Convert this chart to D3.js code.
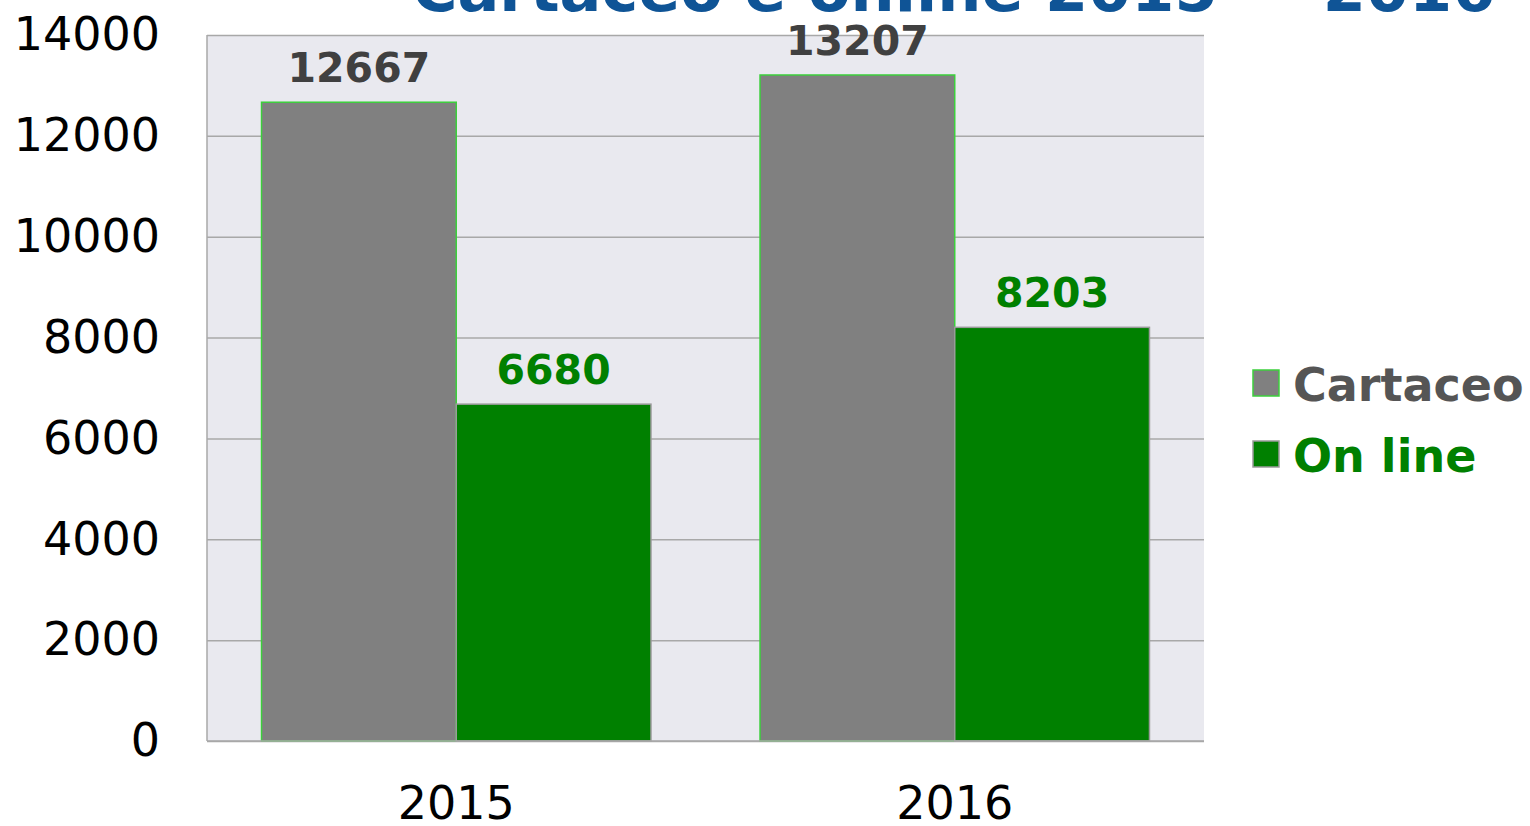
<!DOCTYPE html>
<html>
<head>
<meta charset="utf-8">
<script src="https://cdn.jsdelivr.net/npm/d3@7"></script>
<style>
  body { margin: 0; background: #fff; }
  svg { display: block; }
</style>
</head>
<body>
<svg id="main_svg"></svg>
<script>
const WIDTH = 1530;
const HEIGHT = 826;
const PLOT_LEFT = 207;
const PLOT_RIGHT = 1204;
const PLOT_TOP = 35;
const PLOT_BOTTOM = 741;

const TITLE = 'Cartaceo e online 2015 — 2016';
const years = ['2015', '2016'];
const series = ['Cartaceo', 'On line'];
const cartaceo = [12667, 13207];
const online = [6680, 8203];
const y_ticks = [0, 2000, 4000, 6000, 8000, 10000, 12000, 14000];

const fills = { 'Cartaceo': '#808080', 'On line': '#008000' };
const strokes = { 'Cartaceo': '#3ccf3c', 'On line': '#9a9a9a' };
const label_colors = { 'Cartaceo': '#404040', 'On line': '#008000' };

// Zip the series by year
const dataset = years.map((y, i) => ({ year: y, values: [
	{ key: 'Cartaceo', value: cartaceo[i] },
	{ key: 'On line', value: online[i] }
]}));

const svg = d3.select('#main_svg').attr('width', WIDTH).attr('height', HEIGHT);

const x0 = d3.scaleBand()
	.domain(years)
	.range([PLOT_LEFT, PLOT_RIGHT]);

const x1 = d3.scaleBand()
	.domain(series)
	.range([0, x0.bandwidth()])
	.paddingInner(0)
	.paddingOuter(0.28);

const y = d3.scaleLinear()
	.domain([0, 14000])
	.range([PLOT_BOTTOM, PLOT_TOP]);

// Plot background
svg.append('rect')
	.attr('x', PLOT_LEFT)
	.attr('y', PLOT_TOP)
	.attr('width', PLOT_RIGHT - PLOT_LEFT)
	.attr('height', PLOT_BOTTOM - PLOT_TOP)
	.attr('fill', '#e9e9ef');

// Gridlines
svg.append('g')
	.attr('transform', `translate(${PLOT_LEFT},0)`)
	.call(d3.axisLeft(y).tickValues(y_ticks).tickSize(-(PLOT_RIGHT - PLOT_LEFT)).tickFormat(''))
	.call(g => g.select('.domain').remove())
	.call(g => g.selectAll('line').attr('stroke', '#a8a8a8').attr('stroke-width', 1.5));

// Left border
svg.append('line')
	.attr('x1', PLOT_LEFT).attr('x2', PLOT_LEFT)
	.attr('y1', PLOT_TOP).attr('y2', PLOT_BOTTOM)
	.attr('stroke', '#a8a8a8').attr('stroke-width', 1.5);

// Y axis labels
svg.append('g')
	.attr('transform', `translate(${PLOT_LEFT},0)`)
	.call(d3.axisLeft(y).tickValues(y_ticks).tickSize(0).tickPadding(47).tickFormat(d => d))
	.call(g => g.select('.domain').remove())
	.call(g => g.selectAll('text')
		.attr('font-family', 'DejaVu Sans, Verdana, sans-serif')
		.attr('font-size', '46px')
		.attr('fill', '#000'));

// X axis labels
svg.append('g')
	.attr('transform', `translate(0,${PLOT_BOTTOM})`)
	.call(d3.axisBottom(x0).tickSize(0).tickPadding(45))
	.call(g => g.select('.domain').remove())
	.call(g => g.selectAll('text')
		.attr('font-family', 'DejaVu Sans, Verdana, sans-serif')
		.attr('font-size', '46px')
		.attr('fill', '#000'));

// Bars
const groups = svg.selectAll('.year_group')
	.data(dataset)
	.enter()
	.append('g')
	.attr('class', 'year_group')
	.attr('transform', d => `translate(${x0(d.year)},0)`);

groups.selectAll('rect')
	.data(d => d.values)
	.enter()
	.append('rect')
	.attr('x', d => x1(d.key))
	.attr('y', d => y(d.value))
	.attr('width', x1.bandwidth())
	.attr('height', d => y(0) - y(d.value))
	.attr('fill', d => fills[d.key])
	.attr('stroke', d => strokes[d.key])
	.attr('stroke-width', 1.5);

groups.selectAll('.value_label')
	.data(d => d.values)
	.enter()
	.append('text')
	.attr('class', 'value_label')
	.attr('x', d => x1(d.key) + x1.bandwidth() / 2)
	.attr('y', d => y(d.value) - 20)
	.attr('text-anchor', 'middle')
	.attr('font-family', 'DejaVu Sans, Verdana, sans-serif')
	.attr('font-weight', 'bold')
	.attr('font-size', '41px')
	.attr('fill', d => label_colors[d.key])
	.text(d => d.value);

// Bottom axis line
svg.append('line')
	.attr('x1', PLOT_LEFT).attr('x2', PLOT_RIGHT)
	.attr('y1', PLOT_BOTTOM).attr('y2', PLOT_BOTTOM)
	.attr('stroke', '#a8a8a8').attr('stroke-width', 1.5);

// Legend
const legend = svg.selectAll('.legend_item')
	.data(series)
	.enter()
	.append('g')
	.attr('class', 'legend_item')
	.attr('transform', (d, i) => `translate(1253, ${370 + i * 71})`);

legend.append('rect')
	.attr('width', 26)
	.attr('height', 26)
	.attr('fill', d => fills[d])
	.attr('stroke', d => strokes[d])
	.attr('stroke-width', 1.5);

legend.append('text')
	.attr('x', 40)
	.attr('y', 31)
	.attr('font-family', 'DejaVu Sans, Verdana, sans-serif')
	.attr('font-weight', 'bold')
	.attr('font-size', '46px')
	.attr('fill', d => d === 'Cartaceo' ? '#555555' : '#008000')
	.text(d => d);

// Title (partly cropped at the top)
svg.append('text')
	.attr('x', 412)
	.attr('y', 11)
	.attr('text-anchor', 'start')
	.attr('font-family', 'DejaVu Sans, Verdana, sans-serif')
	.attr('font-weight', 'bold')
	.attr('font-size', '62px')
	.attr('fill', '#0f5496')
	.text(TITLE);
</script>
</body>
</html>
